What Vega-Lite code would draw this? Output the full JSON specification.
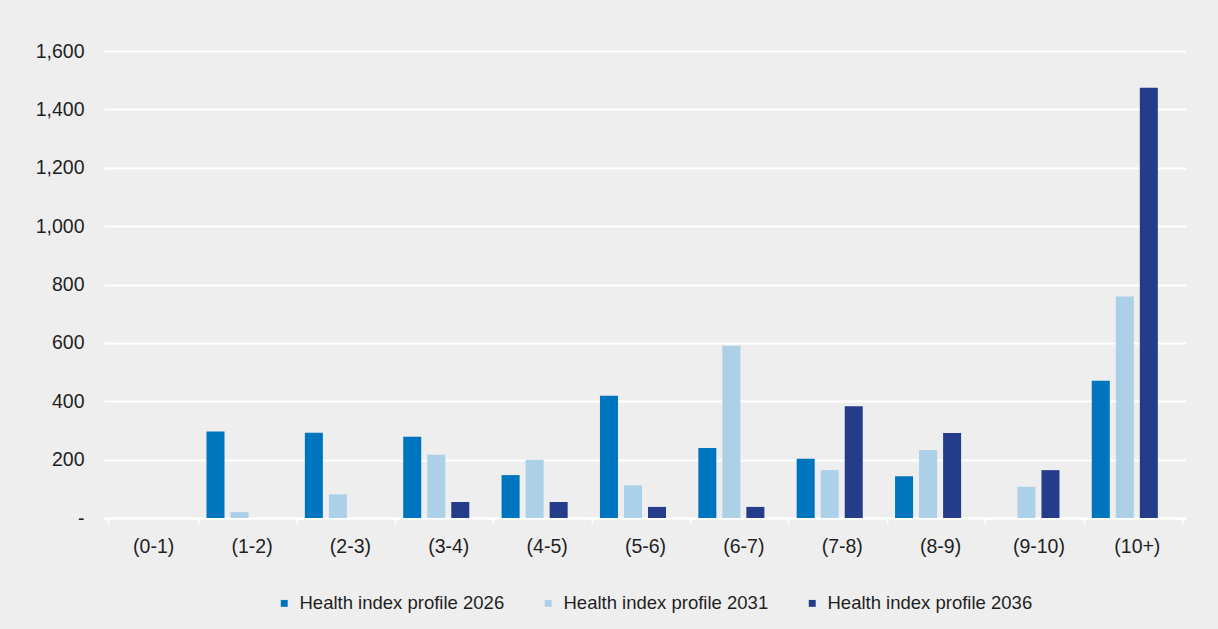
{
  "$schema": "https://vega.github.io/schema/vega-lite/v6.json",
  "autosize": {"type": "none"},
  "padding": {"left": 104, "top": 51, "right": 32, "bottom": 111},
  "width": 1082,
  "height": 467,
  "background": "#eeeeee",
  "config": {
    "font": "Liberation Sans",
    "view": {"stroke": null},
    "axis": {"labelFont": "Liberation Sans", "labelColor": "#1f1f1f"}
  },
  "data": {
    "values": [
      {"band": "(0-1)", "series": "Health index profile 2026", "value": 0},
      {"band": "(0-1)", "series": "Health index profile 2031", "value": 0},
      {"band": "(0-1)", "series": "Health index profile 2036", "value": 0},
      {"band": "(1-2)", "series": "Health index profile 2026", "value": 296},
      {"band": "(1-2)", "series": "Health index profile 2031", "value": 20},
      {"band": "(1-2)", "series": "Health index profile 2036", "value": 0},
      {"band": "(2-3)", "series": "Health index profile 2026", "value": 292},
      {"band": "(2-3)", "series": "Health index profile 2031", "value": 81},
      {"band": "(2-3)", "series": "Health index profile 2036", "value": 0},
      {"band": "(3-4)", "series": "Health index profile 2026", "value": 278},
      {"band": "(3-4)", "series": "Health index profile 2031", "value": 217},
      {"band": "(3-4)", "series": "Health index profile 2036", "value": 55},
      {"band": "(4-5)", "series": "Health index profile 2026", "value": 147},
      {"band": "(4-5)", "series": "Health index profile 2031", "value": 200},
      {"band": "(4-5)", "series": "Health index profile 2036", "value": 55},
      {"band": "(5-6)", "series": "Health index profile 2026", "value": 419},
      {"band": "(5-6)", "series": "Health index profile 2031", "value": 112},
      {"band": "(5-6)", "series": "Health index profile 2036", "value": 38},
      {"band": "(6-7)", "series": "Health index profile 2026", "value": 240},
      {"band": "(6-7)", "series": "Health index profile 2031", "value": 590},
      {"band": "(6-7)", "series": "Health index profile 2036", "value": 38},
      {"band": "(7-8)", "series": "Health index profile 2026", "value": 203},
      {"band": "(7-8)", "series": "Health index profile 2031", "value": 164},
      {"band": "(7-8)", "series": "Health index profile 2036", "value": 383},
      {"band": "(8-9)", "series": "Health index profile 2026", "value": 143},
      {"band": "(8-9)", "series": "Health index profile 2031", "value": 233},
      {"band": "(8-9)", "series": "Health index profile 2036", "value": 291},
      {"band": "(9-10)", "series": "Health index profile 2026", "value": 0},
      {"band": "(9-10)", "series": "Health index profile 2031", "value": 107},
      {"band": "(9-10)", "series": "Health index profile 2036", "value": 164},
      {"band": "(10+)", "series": "Health index profile 2026", "value": 470},
      {"band": "(10+)", "series": "Health index profile 2031", "value": 759},
      {"band": "(10+)", "series": "Health index profile 2036", "value": 1474}
    ]
  },
  "mark": {"type": "bar"},
  "encoding": {
    "x": {
      "field": "band",
      "type": "nominal",
      "sort": null,
      "title": null,
      "scale": {"paddingInner": 0.084, "paddingOuter": 0.042},
      "axis": {
        "labelAngle": 0,
        "labelFontSize": 19.5,
        "labelPadding": 14,
        "tickBand": "extent",
        "ticks": true,
        "tickColor": "#ffffff",
        "tickWidth": 2,
        "tickSize": 5,
        "domain": true,
        "domainColor": "#ffffff",
        "domainWidth": 2,
        "grid": false
      }
    },
    "xOffset": {
      "field": "series",
      "type": "nominal",
      "scale": {
        "domain": ["Health index profile 2026", "Health index profile 2031", "Health index profile 2036", "spare"],
        "paddingInner": 0.25,
        "paddingOuter": 0
      }
    },
    "y": {
      "field": "value",
      "type": "quantitative",
      "title": null,
      "scale": {"domain": [0, 1600], "nice": false},
      "axis": {
        "values": [0, 200, 400, 600, 800, 1000, 1200, 1400, 1600],
        "labelExpr": "datum.value == 0 ? '-' : format(datum.value, ',')",
        "labelFontSize": 19.5,
        "labelPadding": 20,
        "ticks": false,
        "domain": false,
        "grid": true,
        "gridColor": "#ffffff",
        "gridWidth": 2
      }
    },
    "color": {
      "field": "series",
      "type": "nominal",
      "title": null,
      "scale": {
        "domain": ["Health index profile 2026", "Health index profile 2031", "Health index profile 2036"],
        "range": ["#0075bf", "#abd0e8", "#253c8b"]
      },
      "legend": {
        "orient": "none",
        "direction": "horizontal",
        "legendX": 171,
        "legendY": 543,
        "symbolType": "square",
        "symbolSize": 48,
        "symbolStrokeWidth": 0,
        "labelFontSize": 18.5,
        "labelFont": "Liberation Sans",
        "labelColor": "#1f1f1f",
        "labelOffset": 6,
        "columnPadding": 34,
        "labelLimit": 400
      }
    }
  }
}
